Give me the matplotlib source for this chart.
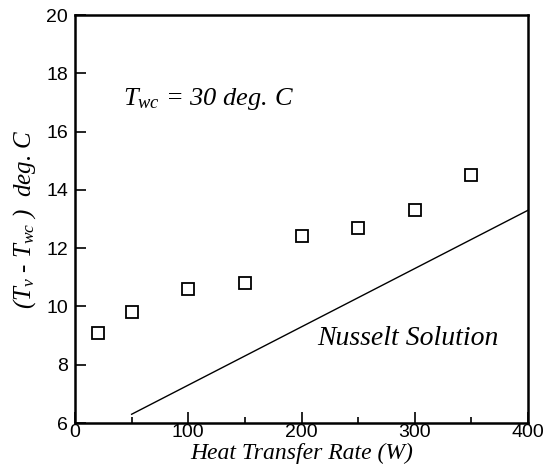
import matplotlib
matplotlib.use("Agg")
import matplotlib.pyplot as plt
from matplotlib.ticker import MultipleLocator

plt.rcParams["mathtext.fontset"] = "custom"
plt.rcParams["mathtext.it"] = "Liberation Serif:italic"
plt.rcParams["mathtext.rm"] = "Liberation Serif:italic"

# measured points
heat_rate = [20, 50, 100, 150, 200, 250, 300, 350]
delta_t = [9.1, 9.8, 10.6, 10.8, 12.4, 12.7, 13.3, 14.5]

# Nusselt solution line
nusselt_q = [50, 400]
nusselt_dt = [6.3, 13.3]

fig = plt.figure(figsize=(5.44, 4.75), dpi=100)
ax = fig.add_axes([75 / 544, 1 - 423 / 475, 453 / 544, 408 / 475])

ax.plot(nusselt_q, nusselt_dt, color="black", linewidth=1.0)
ax.plot(heat_rate, delta_t, linestyle="none", marker="s", markersize=9,
        markerfacecolor="white", markeredgecolor="black", markeredgewidth=1.3)

ax.set_xlim(0, 400)
ax.set_ylim(6, 20)
ax.xaxis.set_major_locator(MultipleLocator(100))
ax.xaxis.set_minor_locator(MultipleLocator(50))
ax.yaxis.set_major_locator(MultipleLocator(2))
ax.tick_params(which="both", direction="in", top=False, right=False,
               labelsize=14, width=1.2)
ax.tick_params(axis="y", pad=5)
ax.tick_params(axis="x", pad=1)
ax.tick_params(which="major", length=8)
ax.tick_params(which="minor", length=4)
for lbl in ax.get_xticklabels() + ax.get_yticklabels():
    lbl.set_family("Liberation Sans")
for sp in ax.spines.values():
    sp.set_linewidth(1.8)

serif = {"family": "Liberation Serif", "style": "italic"}
ax.set_xlabel("Heat Transfer Rate (W)", fontsize=17, labelpad=1, **serif)
ax.set_ylabel(r"$(T_v$ - $T_{wc}\ )$  deg. C", fontsize=18, labelpad=6, **serif)

ax.text(42, 16.9, r"$T_{wc}$ = 30 deg. C", fontsize=19, **serif)
ax.text(214, 8.68, "Nusselt Solution", fontsize=20, **serif)

fig.savefig("out.png", dpi=100)
